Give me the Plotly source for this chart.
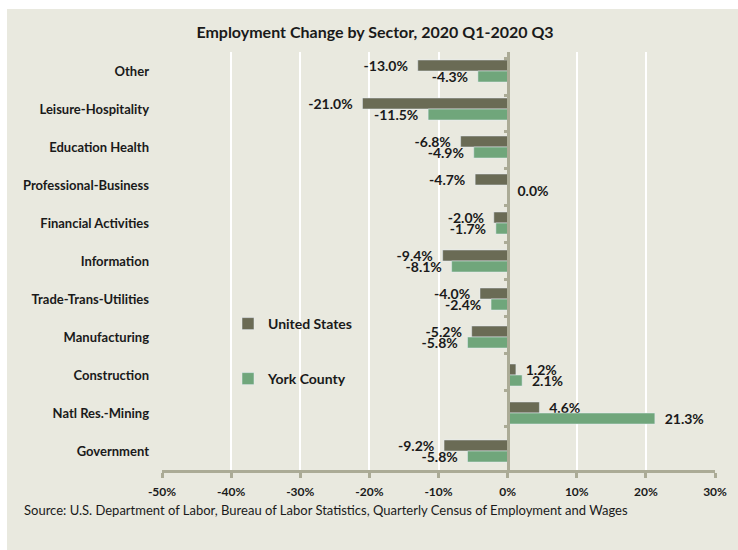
import plotly.graph_objects as go

sectors = ["Other", "Leisure-Hospitality", "Education Health", "Professional-Business",
           "Financial Activities", "Information", "Trade-Trans-Utilities", "Manufacturing",
           "Construction", "Natl Res.-Mining", "Government"]
us_values = [-13.0, -21.0, -6.8, -4.7, -2.0, -9.4, -4.0, -5.2, 1.2, 4.6, -9.2]
york_values = [-4.3, -11.5, -4.9, 0.0, -1.7, -8.1, -2.4, -5.8, 2.1, 21.3, -5.8]
x_ticks = [-50, -40, -30, -20, -10, 0, 10, 20, 30]
x_tick_labels = [f"{v}%" for v in x_ticks]

title = "Employment Change by Sector, 2020 Q1-2020 Q3"
source = "Source: U.S. Department of Labor, Bureau of Labor Statistics, Quarterly Census of Employment and Wages"

US_COLOR = "#6A6B55"
YORK_COLOR = "#70A67B"
BG = "#E9E9DF"
AXIS = "#ABAB96"
TXT = "#1a1a1a"
FONT = "Lato"
NB = "\u00a0"

W, H = 738, 550
ML, MR, MT, MB = 162, 23, 52, 80
PW, PH = W - ML - MR, H - MT - MB
xmin, xmax = x_ticks[0], x_ticks[-1]


def label(v):
    s = f"{v:.1f}%"
    return s + NB * 2 if v < 0 else NB * 2 + s


def px_x(p):
    return (p - ML) / PW


def px_y(p):
    return (H - MB - p) / PH


fig = go.Figure()
fig.add_trace(go.Bar(
    name="United States", y=sectors, x=us_values, orientation="h",
    marker=dict(color=US_COLOR), text=[label(v) for v in us_values],
    textposition="outside", cliponaxis=False, constraintext="none",
    textfont=dict(family=FONT, size=14, color=TXT, weight="bold"),
    legend="legend",
))
fig.add_trace(go.Bar(
    name="York County", y=sectors, x=york_values, orientation="h",
    marker=dict(color=YORK_COLOR), text=[label(v) for v in york_values],
    textposition="outside", cliponaxis=False, constraintext="none",
    textfont=dict(family=FONT, size=14, color=TXT, weight="bold"),
    legend="legend2",
))
# invisible helper trace so the zero-crossing category axis (with boundary ticks) renders
fig.add_trace(go.Scatter(
    y=sectors, x=[0] * len(sectors), yaxis="y2", mode="markers",
    marker=dict(opacity=0), showlegend=False, hoverinfo="skip",
))

fig.update_layout(
    width=W, height=H,
    margin=dict(l=ML, r=MR, t=MT, b=MB),
    paper_bgcolor=BG, plot_bgcolor=BG,
    barmode="group", bargap=0.42, bargroupgap=0,
    font=dict(family=FONT, color=TXT),
    title=dict(text=f"<b>{title}</b>", x=375 / W, xanchor="center",
               y=1 - 32 / H, yanchor="middle",
               font=dict(family=FONT, size=16, color=TXT)),
    xaxis=dict(
        range=[xmin, xmax], tickmode="array", tickvals=x_ticks, ticktext=x_tick_labels,
        showgrid=True, gridcolor="white", gridwidth=2,
        zeroline=False, showline=True, linecolor=AXIS, linewidth=3,
        ticks="outside", ticklen=5, tickwidth=3, tickcolor=AXIS,
        tickfont=dict(family=FONT, size=12, color=TXT, weight="bold"),
        ticklabelstandoff=4, domain=[0, 1],
    ),
    yaxis=dict(
        type="category", categoryorder="array", categoryarray=sectors,
        autorange="reversed", showgrid=False, zeroline=False, showline=False,
        ticks="", ticklabelstandoff=12,
        tickfont=dict(family=FONT, size=13, color=TXT, weight="bold"),
    ),
    yaxis2=dict(
        type="category", categoryorder="array", categoryarray=sectors,
        autorange="reversed", overlaying="y", anchor="free",
        position=(0 - xmin) / (xmax - xmin), side="left",
        showline=True, linecolor=AXIS, linewidth=3,
        ticks="outside", tickson="boundaries", ticklen=3, tickwidth=3, tickcolor=AXIS,
        showticklabels=False, showgrid=False, zeroline=False,
    ),
    legend=dict(x=px_x(228), y=px_y(324), xanchor="left", yanchor="middle",
                bgcolor="rgba(0,0,0,0)", borderwidth=0,
                font=dict(family=FONT, size=14, color=TXT, weight="bold")),
    legend2=dict(x=px_x(228), y=px_y(379), xanchor="left", yanchor="middle",
                 bgcolor="rgba(0,0,0,0)", borderwidth=0,
                 font=dict(family=FONT, size=14, color=TXT, weight="bold")),
    shapes=[
        dict(type="rect", xref="paper", yref="paper", layer="below",
             x0=px_x(0), x1=px_x(W), y0=px_y(0), y1=px_y(9),
             fillcolor="white", line=dict(width=0)),
        dict(type="rect", xref="paper", yref="paper", layer="below",
             x0=px_x(0), x1=px_x(7), y0=px_y(0), y1=px_y(H),
             fillcolor="white", line=dict(width=0)),
    ],
    annotations=[
        dict(text=source, xref="paper", yref="paper", x=px_x(22), y=px_y(510),
             xanchor="left", yanchor="middle", showarrow=False,
             font=dict(family=FONT, size=13, color=TXT)),
    ],
)

fig.write_html("out.html")
